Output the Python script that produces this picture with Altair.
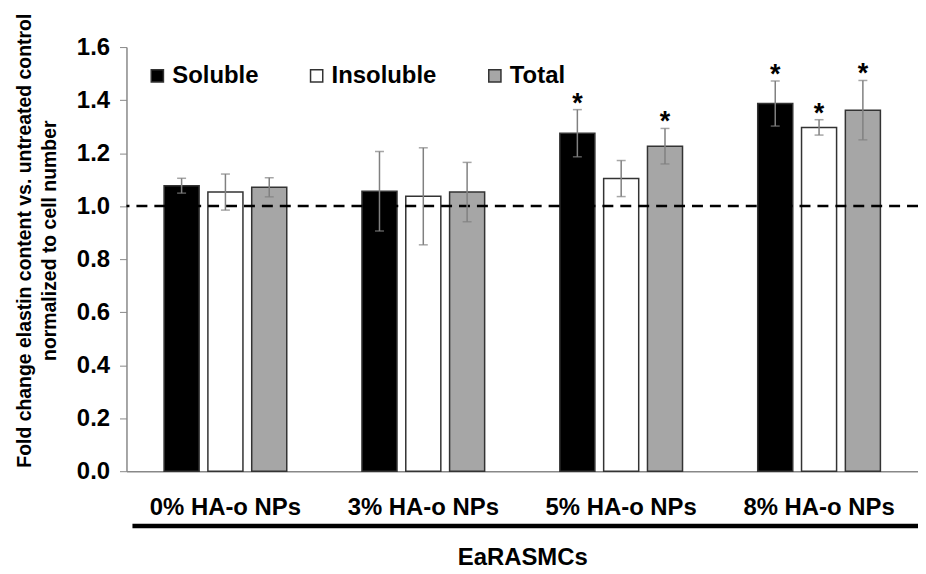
import altair as alt
import pandas as pd

groups = ["0% HA-o NPs", "3% HA-o NPs", "5% HA-o NPs", "8% HA-o NPs"]
series = ["Soluble", "Insoluble", "Total"]
colors = ["#000000", "#ffffff", "#a6a6a6"]

soluble = [1.077, 1.056, 1.275, 1.387]
insoluble = [1.053, 1.037, 1.104, 1.297]
total = [1.071, 1.053, 1.226, 1.362]

soluble_err = [0.028, 0.150, 0.089, 0.085]
insoluble_err = [0.068, 0.183, 0.068, 0.029]
total_err = [0.036, 0.112, 0.067, 0.112]

soluble_sig = [False, False, True, True]
insoluble_sig = [False, False, False, True]
total_sig = [False, False, True, True]

y_ticks = [0.0, 0.2, 0.4, 0.6, 0.8, 1.0, 1.2, 1.4, 1.6]

rows = []
for s, vals, errs, sigs in [
    ("Soluble", soluble, soluble_err, soluble_sig),
    ("Insoluble", insoluble, insoluble_err, insoluble_sig),
    ("Total", total, total_err, total_sig),
]:
    for g, v, e, sg in zip(groups, vals, errs, sigs):
        rows.append({"group": g, "series": s, "value": v,
                     "low": v - e, "high": v + e, "sig": "*" if sg else ""})
df = pd.DataFrame(rows)

W, H = 795, 426
FONT = "Liberation Sans"

x_enc = alt.X("group:N", sort=groups,
              scale=alt.Scale(paddingInner=0.38, paddingOuter=0.19),
              axis=alt.Axis(title="EaRASMCs", labelAngle=0, labelFont=FONT,
                            labelFontSize=24, labelFontWeight="bold",
                            labelColor="black", labelPadding=24, ticks=False,
                            domainColor="#888888", domainWidth=1.5,
                            titleFont=FONT, titleFontSize=24,
                            titleFontWeight="bold", titlePadding=27,
                            titleColor="black"))
xo_enc = alt.XOffset("series:N", sort=series,
                     scale=alt.Scale(domain=series, paddingInner=0.2,
                                     paddingOuter=0))
y_scale = alt.Scale(domain=[0, 1.6], nice=False)

base = alt.Chart(df)

bars = base.mark_bar(stroke="#333333", strokeWidth=1.5).encode(
    x=x_enc,
    xOffset=xo_enc,
    y=alt.Y("value:Q", scale=y_scale,
            axis=alt.Axis(values=y_ticks, format=".1f",
                          title=["Fold change elastin content vs. untreated control",
                                 "normalized to cell number"],
                          labelFont=FONT, labelFontSize=24,
                          labelFontWeight="bold", labelColor="black",
                          labelPadding=10, tickSize=7, tickColor="#888888",
                          domainColor="#888888", domainWidth=1.5,
                          grid=False, titleFont=FONT, titleFontSize=19.5,
                          titleFontWeight="bold", titleColor="black",
                          titlePadding=17, titleLineHeight=25,
                          titleY=194)),
    color=alt.Color("series:N", sort=series,
                    scale=alt.Scale(domain=series, range=colors),
                    legend=alt.Legend(orient="none", legendX=19, legendY=17,
                                      direction="horizontal", columns=3,
                                      title=None, symbolType="square",
                                      symbolSize=150, symbolStrokeColor="#333333",
                                      symbolStrokeWidth=1.5,
                                      symbolOpacity=1,
                                      labelFont=FONT, labelFontSize=24,
                                      labelFontWeight="bold",
                                      labelColor="black", columnPadding=46,
                                      labelOffset=3)),
)

err_rule = base.mark_rule(color="#808080", strokeWidth=1.5).encode(
    x=alt.X("group:N", sort=groups), xOffset=xo_enc,
    y=alt.Y("low:Q", scale=y_scale), y2="high:Q")

cap_lo = base.mark_tick(color="#808080", thickness=1.5, size=9,
                        orient="horizontal").encode(
    x=alt.X("group:N", sort=groups), xOffset=xo_enc,
    y=alt.Y("low:Q", scale=y_scale))
cap_hi = base.mark_tick(color="#808080", thickness=1.5, size=9,
                        orient="horizontal").encode(
    x=alt.X("group:N", sort=groups), xOffset=xo_enc,
    y=alt.Y("high:Q", scale=y_scale))

stars = base.mark_text(font=FONT, fontSize=27, fontWeight="bold",
                       baseline="middle", dy=-6, color="black").encode(
    x=alt.X("group:N", sort=groups), xOffset=xo_enc,
    y=alt.Y("high:Q", scale=y_scale), text="sig:N")

ref = alt.Chart(pd.DataFrame({"ref": [1.0]})).mark_rule(
    color="black", strokeWidth=2.5, strokeDash=[11, 7]).encode(
    y=alt.Y("ref:Q", scale=y_scale))

underline = alt.Chart(pd.DataFrame({"a": [0]})).mark_rule(
    color="black", strokeWidth=4.5).encode(
    x=alt.value(6), x2=alt.value(W), y=alt.value(H + 55))

chart = alt.layer(bars, ref, err_rule, cap_lo, cap_hi, stars, underline).properties(
    width=W, height=H,
    autosize=alt.AutoSizeParams(type="none"),
    padding={"left": 119, "top": 38, "right": 0, "bottom": 100},
    background="white",
).configure_view(stroke=None)

chart.save("out.html", embed_options={"renderer": "svg", "actions": False})
